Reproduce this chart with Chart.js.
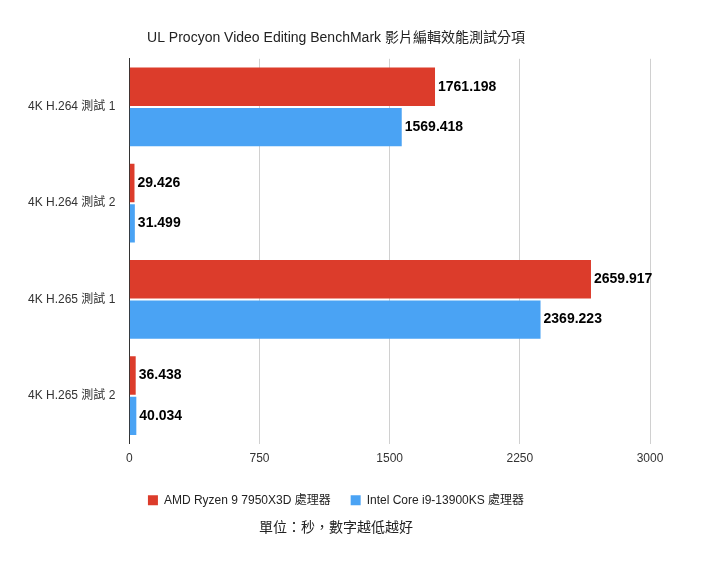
<!DOCTYPE html>
<html lang="en">
<head>
<meta charset="UTF-8">
<title>UL Procyon Video Editing</title>
<script src="https://cdn.jsdelivr.net/npm/chart.js"></script>
<style>
  html, body { margin: 0; background: #fff; }
  #wrap { width: 720px; height: 571px; }
</style>
</head>
<body>
<div id="wrap"><canvas id="chart"></canvas></div>
<script>
const categories = ['4K H.264 測試 1', '4K H.264 測試 2', '4K H.265 測試 1', '4K H.265 測試 2'];
const amdValues = [1761.198, 29.426, 2659.917, 36.438];
const intelValues = [1569.418, 31.499, 2369.223, 40.034];
const seriesNames = ['AMD Ryzen 9 7950X3D 處理器', 'Intel Core i9-13900KS 處理器'];

const font = "'Liberation Sans', 'Noto Sans CJK TC', sans-serif";

// draw value text at the end of each bar
const valueLabels = {
  id: 'valueLabels',
  afterDatasetsDraw(chart) {
    const ctx = chart.ctx;
    ctx.save();
    ctx.font = 'bold 14px ' + font;
    ctx.fillStyle = '#000';
    ctx.textBaseline = 'middle';
    chart.data.datasets.forEach((ds, i) => {
      chart.getDatasetMeta(i).data.forEach((bar, j) => {
        ctx.fillText(ds.data[j].toFixed(3), bar.x + 3, bar.y);
      });
    });
    ctx.restore();
  }
};

new Chart(document.getElementById('chart'), {
  type: 'bar',
  data: {
    labels: categories,
    datasets: [
      { label: seriesNames[0], data: amdValues, backgroundColor: '#dc3c2b' },
      { label: seriesNames[1], data: intelValues, backgroundColor: '#4aa3f4' }
    ]
  },
  options: {
    indexAxis: 'y',
    responsive: true,
    maintainAspectRatio: false,
    animation: false,
    layout: { padding: { left: 22, right: 70, top: 14, bottom: 34 } },
    datasets: { bar: { categoryPercentage: 0.84, barPercentage: 0.95 } },
    scales: {
      x: {
        min: 0, max: 3000,
        ticks: { stepSize: 750, color: '#333', font: { size: 12, family: font }, callback: v => String(v), padding: 8 },
        grid: { color: '#d0d0d0', drawTicks: false },
        border: { display: false }
      },
      y: {
        ticks: { color: '#333', font: { size: 12, family: font }, padding: 6 },
        grid: { display: false },
        border: { color: '#333' }
      }
    },
    plugins: {
      title: {
        display: true,
        text: 'UL Procyon Video Editing BenchMark 影片編輯效能測試分項',
        color: '#222',
        font: { size: 14, weight: 'normal', family: font },
        padding: { top: 16, bottom: 12 }
      },
      subtitle: {
        display: true,
        position: 'bottom',
        text: '單位：秒，數字越低越好',
        color: '#222',
        font: { size: 14, family: font },
        padding: { top: 4 }
      },
      legend: {
        position: 'bottom',
        labels: { boxWidth: 10, boxHeight: 10, padding: 20, color: '#222', font: { size: 12, family: font } }
      },
      tooltip: { enabled: false }
    }
  },
  plugins: [valueLabels]
});
</script>
</body>
</html>
